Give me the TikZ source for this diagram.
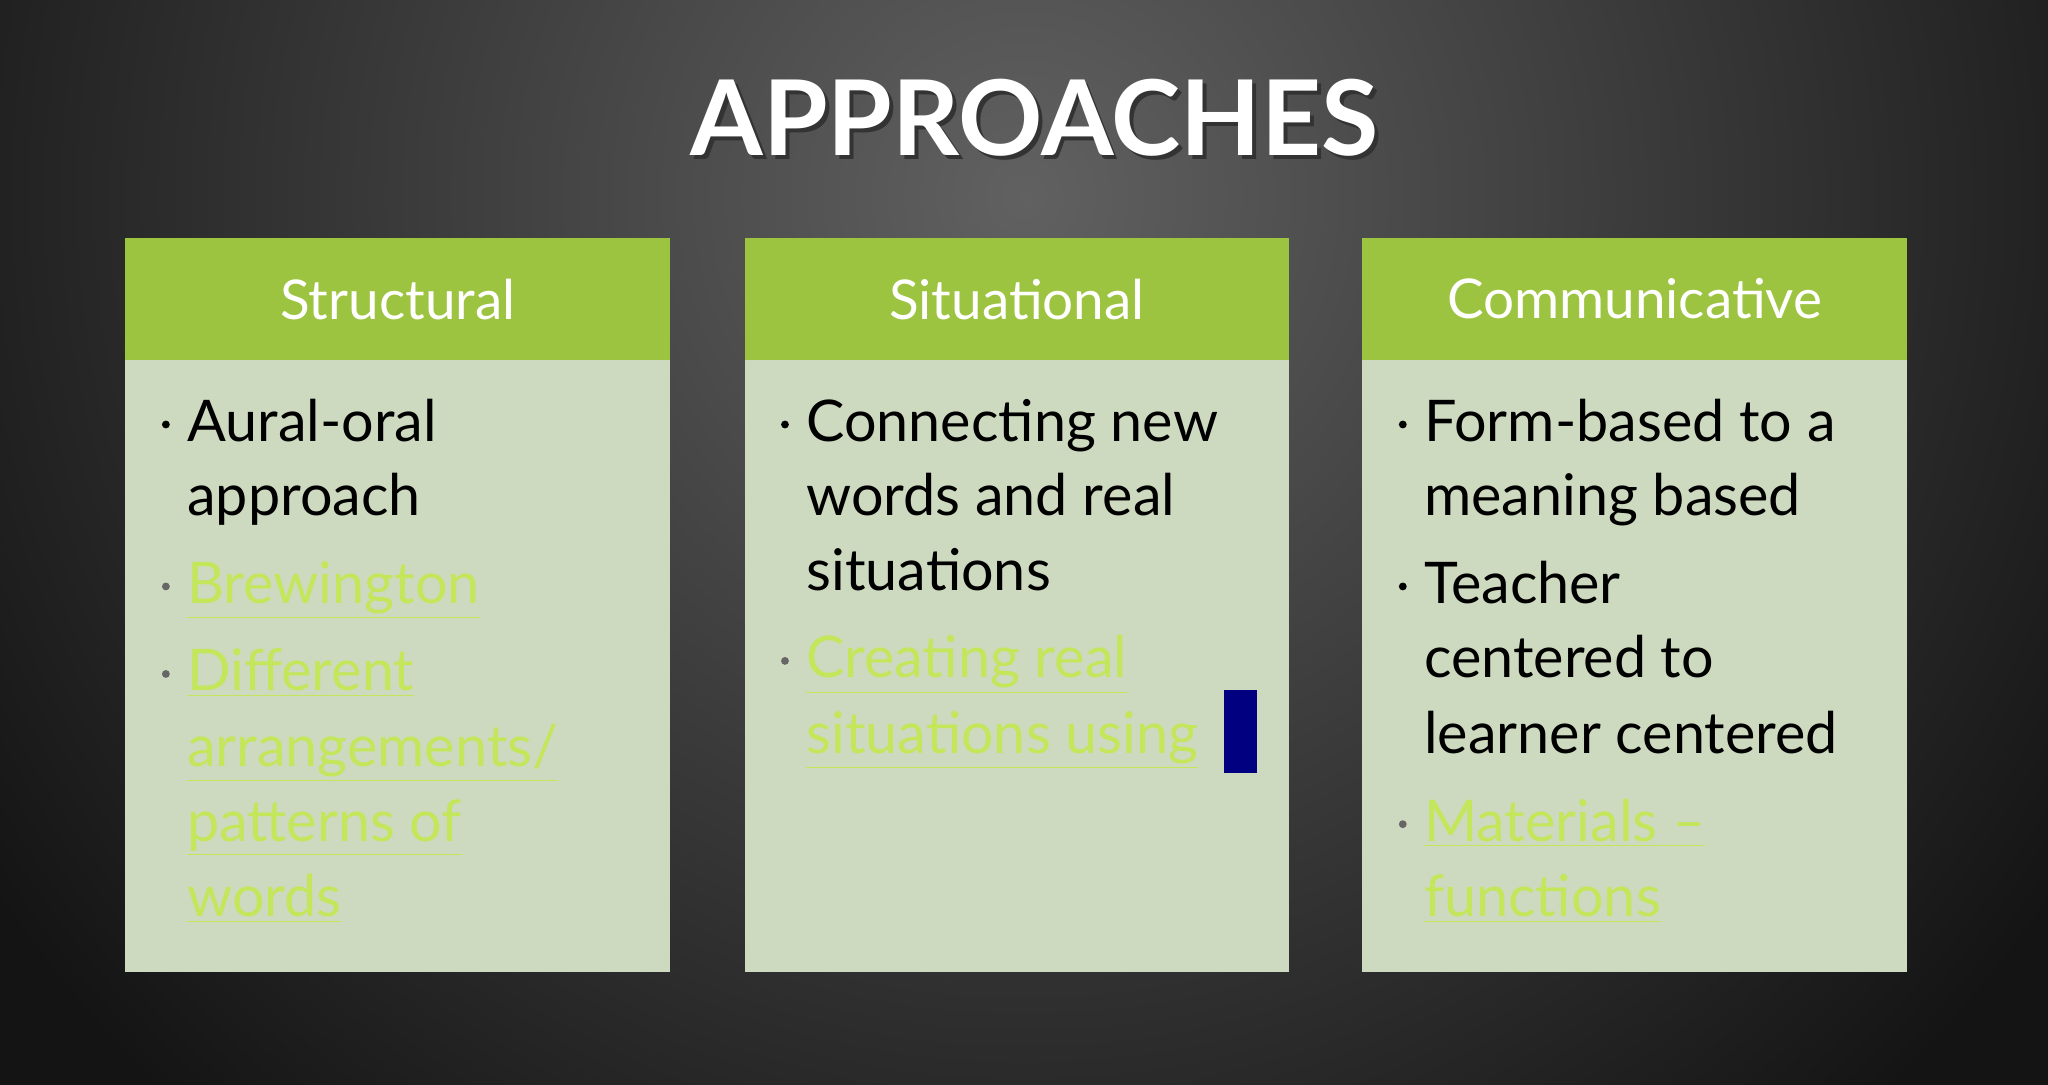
\documentclass[tikz,border=0pt]{standalone}
\usepackage{fontspec}
\setmainfont{Lato}
\begin{document}
\begin{tikzpicture}[x=0.5pt,y=-0.5pt,
  hdr/.style={fill=hgreen,draw=none},
  bodybox/.style={fill=bgreen,draw=none},
  htxt/.style={text=white,font=\fontsize{21}{25}\selectfont},
  ln/.style={anchor=base west,inner sep=0pt,font=\fontsize{22}{25}\selectfont,text=black},
  lk/.style={ln,text=lgreen},
  bul/.style={fill=black,draw=none,circle,inner sep=0pt,minimum size=3pt},
  bulk/.style={fill=gray!80!black,draw=none,circle,inner sep=0pt,minimum size=3pt}]
\definecolor{hgreen}{HTML}{9CC440}
\definecolor{bgreen}{HTML}{CEDABF}
\definecolor{lgreen}{HTML}{C4E65A}
\definecolor{navyc}{HTML}{000080}
\useasboundingbox (0,0) rectangle (1568,830);
\fill[black!92] (-2,-2) rectangle (1570,832);
\begin{scope}
\clip (-2,-2) rectangle (1570,832);
\shade[inner color=black!62,outer color=black!92] (784,150) circle (950);
\end{scope}
% title
\node[text=black!80,font=\fontsize{40}{48}\selectfont\bfseries] at (795,93) {APPROACHES};
\node (title) [text=white,font=\fontsize{40}{48}\selectfont\bfseries] at (792,90) {APPROACHES};
% boxes
\foreach \n/\x/\t in {a/96/Structural,b/570/Situational,c/1043/Communicative}{
  \fill[bodybox] (\x,276) rectangle (\x+417,744);
  \fill[hdr] (\x,182) rectangle (\x+417,276);
  \node[htxt] (h\n) at (\x+208.5,229) {\t};
}
% column 1
\node[bul] (b1) at (127,325) {};
\node[ln] (a1) at (143,338) {Aural-oral};
\node[ln] (a2) at (143,395) {approach};
\node[bulk] (b2) at (127,449) {};
\node[lk] (a3) at (143,462) {\underline{Brewington}};
\node[bulk] (b3) at (127,516) {};
\node[lk] (a4) at (143,529) {\underline{Different}};
\node[lk] (a5) at (143,587) {\underline{arrangements/}};
\node[lk] (a6) at (143,644) {\underline{patterns of}};
\node[lk] (a7) at (143,702) {\underline{words}};
% column 2
\node[bul] (b4) at (601,325) {};
\node[ln] (s1) at (617,338) {Connecting new};
\node[ln] (s2) at (617,395) {words and real};
\node[ln] (s3) at (617,452) {situations};
\node[bulk] (b5) at (601,506) {};
\node[lk] (s4) at (617,519) {\underline{Creating real}};
\node[lk] (s5) at (617,577) {\underline{situations using}};
\fill[navyc] (937,528) rectangle (962,592);
% column 3
\node[bul] (b6) at (1074,325) {};
\node[ln] (c1) at (1090,338) {Form-based to a};
\node[ln] (c2) at (1090,395) {meaning based};
\node[bul] (b7) at (1074,449) {};
\node[ln] (c3) at (1090,462) {Teacher};
\node[ln] (c4) at (1090,519) {centered to};
\node[ln] (c5) at (1090,577) {learner centered};
\node[bulk] (b8) at (1074,631) {};
\node[lk] (c6) at (1090,644) {\underline{Materials –}};
\node[lk] (c7) at (1090,702) {\underline{functions}};
\end{tikzpicture}
\end{document}
